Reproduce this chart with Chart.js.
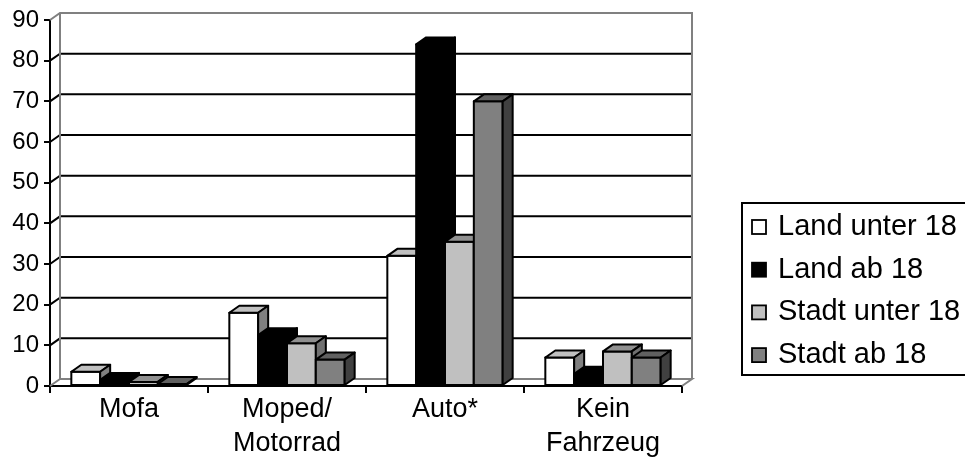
<!DOCTYPE html>
<html>
<head>
<meta charset="utf-8">
<script src="https://cdn.jsdelivr.net/npm/chart.js@4/dist/chart.umd.min.js"></script>
<style>
  html, body { margin: 0; padding: 0; background: #fff; }
  #wrap { width: 965px; height: 461px; }
</style>
</head>
<body>
<div id="wrap"><canvas id="c" width="965" height="461"></canvas></div>
<script>
// Verkehrsmittel nach Wohnort und Alter (Anteile in %)
const categories = ['Mofa', ['Moped/', 'Motorrad'], 'Auto*', ['Kein', 'Fahrzeug']];
const seriesNames = ['Land unter 18', 'Land ab 18', 'Stadt unter 18', 'Stadt ab 18'];
const landUnter18 = [3.5, 18, 32, 7];
const landAb18 = [1.5, 12.5, 84, 3];
const stadtUnter18 = [1, 10.5, 35.5, 8.5];
const stadtAb18 = [0.5, 6.5, 70, 7];
const yMin = 0, yMax = 90, yStep = 10;

// face colours of each 3D column: front, top, side
const faceColors = [
  ['#ffffff', '#c0c0c0', '#808080'],
  ['#000000', '#000000', '#000000'],
  ['#c0c0c0', '#909090', '#707070'],
  ['#808080', '#606060', '#404040']
];

const FONT = "'Liberation Sans', Arial, Helvetica, sans-serif";
const DX = 10, DY = 7;   // depth offset of the 3D room and columns

// back wall, floor and gridlines of the 3D room
const room3d = {
  id: 'room3d',
  beforeDatasetsDraw(chart) {
    const { ctx, chartArea: a, scales: { y } } = chart;
    const top = y.getPixelForValue(yMax), bottom = y.getPixelForValue(yMin);
    ctx.save();
    ctx.fillStyle = '#ffffff';
    ctx.fillRect(a.left + DX, top - DY, a.right - a.left, bottom - top);
    // gridlines: along the side wall, then across the back wall
    ctx.strokeStyle = '#000000';
    ctx.lineWidth = 2;
    for (let v = yMin + yStep; v < yMax; v += yStep) {
      const p = y.getPixelForValue(v);
      ctx.beginPath();
      ctx.moveTo(a.left, p);
      ctx.lineTo(a.left + DX, p - DY);
      ctx.lineTo(a.right + DX, p - DY);
      ctx.stroke();
    }
    // wall and floor outline
    ctx.strokeStyle = '#808080';
    ctx.lineWidth = 2;
    ctx.beginPath();
    ctx.moveTo(a.left, top);
    ctx.lineTo(a.left + DX, top - DY);
    ctx.lineTo(a.right + DX, top - DY);
    ctx.lineTo(a.right + DX, bottom - DY);
    ctx.moveTo(a.left + DX, top - DY);
    ctx.lineTo(a.left + DX, bottom - DY);
    ctx.lineTo(a.right + DX, bottom - DY);
    ctx.lineTo(a.right, bottom);
    ctx.moveTo(a.left, bottom);
    ctx.lineTo(a.left + DX, bottom - DY);
    ctx.stroke();
    ctx.restore();
  },
  afterDatasetsDraw(chart) {
    const ctx = chart.ctx;
    ctx.save();
    ctx.lineJoin = 'round';
    ctx.strokeStyle = '#000000';
    ctx.lineWidth = 2;
    chart.data.datasets.forEach((ds, i) => {
      const [front, topC, side] = faceColors[i];
      chart.getDatasetMeta(i).data.forEach(el => {
        const { x, y, base, width } = el.getProps(['x', 'y', 'base', 'width'], true);
        const l = x - width / 2, r = x + width / 2;
        // front face
        ctx.fillStyle = front;
        ctx.beginPath();
        ctx.rect(l, y, r - l, base - y);
        ctx.fill(); ctx.stroke();
        // top face
        ctx.fillStyle = topC;
        ctx.beginPath();
        ctx.moveTo(l, y);
        ctx.lineTo(l + DX, y - DY);
        ctx.lineTo(r + DX, y - DY);
        ctx.lineTo(r, y);
        ctx.closePath();
        ctx.fill(); ctx.stroke();
        // side face
        ctx.fillStyle = side;
        ctx.beginPath();
        ctx.moveTo(r, y);
        ctx.lineTo(r + DX, y - DY);
        ctx.lineTo(r + DX, base - DY);
        ctx.lineTo(r, base);
        ctx.closePath();
        ctx.fill(); ctx.stroke();
      });
    });
    ctx.restore();
  },
  afterDraw(chart) {
    // framed legend on the right
    const ctx = chart.ctx;
    ctx.save();
    ctx.strokeStyle = '#000000';
    ctx.lineWidth = 2;
    ctx.strokeRect(742, 203, 240, 172);
    ctx.font = '29px ' + FONT;
    ctx.textBaseline = 'alphabetic';
    ctx.textAlign = 'left';
    chart.data.datasets.forEach((ds, i) => {
      const base = 235 + i * 42.7;
      ctx.fillStyle = faceColors[i][0];
      ctx.lineWidth = 1.8;
      ctx.fillRect(752, base - 15, 14, 14);
      ctx.strokeRect(752, base - 15, 14, 14);
      ctx.fillStyle = '#000000';
      ctx.fillText(ds.label, 778, base);
    });
    ctx.restore();
  }
};

const seriesValues = [landUnter18, landAb18, stadtUnter18, stadtAb18];

new Chart(document.getElementById('c'), {
  type: 'bar',
  data: {
    labels: categories,
    datasets: seriesNames.map((name, i) => ({
      label: name,
      data: seriesValues[i],
      backgroundColor: 'rgba(0,0,0,0)',
      borderWidth: 0
    }))
  },
  options: {
    responsive: false,
    animation: false,
    devicePixelRatio: 1,
    layout: { padding: { left: 0, right: 283, top: 20, bottom: 0 } },
    datasets: { bar: { barPercentage: 1, categoryPercentage: 0.73 } },
    plugins: { legend: { display: false }, tooltip: { enabled: false } },
    scales: {
      x: {
        grid: { drawOnChartArea: false, drawTicks: true, tickLength: 7, color: '#000', lineWidth: 2, offset: true },
        border: { color: '#000', width: 2 },
        ticks: { color: '#000', font: { family: FONT, size: 27, lineHeight: 1.24 }, padding: 0, maxRotation: 0, autoSkip: false },
        afterFit(s) { s.height = 75; }
      },
      y: {
        min: yMin, max: yMax,
        grid: { drawOnChartArea: false, drawTicks: true, tickLength: 6, color: '#000', lineWidth: 2 },
        border: { color: '#000', width: 2 },
        ticks: { stepSize: yStep, color: '#000', font: { family: FONT, size: 24 }, padding: 5 },
        afterFit(s) { s.width = 50; }
      }
    }
  },
  plugins: [room3d]
});
</script>
</body>
</html>
